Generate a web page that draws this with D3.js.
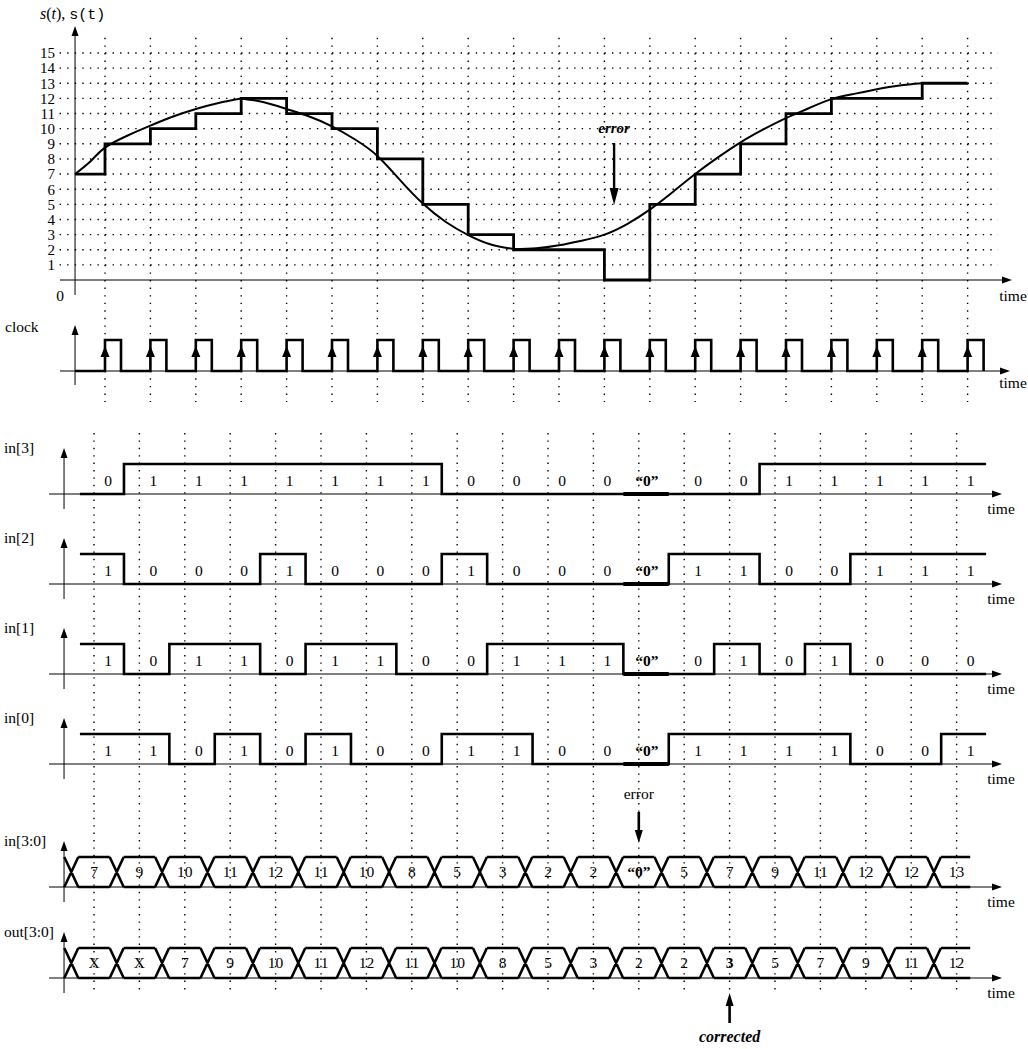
<!DOCTYPE html>
<html>
<head>
<meta charset="utf-8">
<script src="https://cdn.jsdelivr.net/npm/d3@7"></script>
<style>
  body { margin: 0; background: #fff; }
  svg { display: block; }
</style>
</head>
<body>
<script>
// sampled values s(t) at every clock edge (index 12 is the corrupted sample)
const sampleValues = [7, 9, 10, 11, 12, 11, 10, 8, 5, 3, 2, 2, 0, 5, 7, 9, 11, 12, 12, 13];
const errorIndex = 12;

// decoder output, two cycles late, with the corrected sample
const outLabels = ['X', 'X', '7', '9', '10', '11', '12', '11', '10', '8', '5', '3', '2', '2', '3', '5', '7', '9', '11', '12'];
const correctedIndex = 14;

// analog curve, [t, value], t in clock periods
const curveRise = [[-0.66, 7], [-0.3, 7.9], [0, 8.75], [0.5, 9.55], [1, 10.2], [1.5, 10.8], [2, 11.3], [2.5, 11.7], [3, 12]];
const curveFall = [[3, 12], [3.5, 11.75], [4, 11.3], [4.5, 10.8], [5, 10.15], [5.5, 9.3], [6, 8.2], [6.5, 6.6],
  [7, 5.05], [7.5, 3.85], [8, 2.97], [8.5, 2.35], [9, 2.05]];
const curveRise2 = [[9, 2.05], [9.5, 2.1], [10, 2.3], [10.5, 2.6], [11, 3.0], [11.5, 3.7], [12, 4.65], [12.5, 5.8],
  [13, 7.0], [13.5, 8.1], [14, 9.1], [14.5, 9.95], [15, 10.7], [15.5, 11.35], [16, 11.95], [16.5, 12.3],
  [17, 12.6], [17.5, 12.85], [18, 13.0]];

const levelTicks = [1, 2, 3, 4, 5, 6, 7, 8, 9, 10, 11, 12, 13, 14, 15];
const bitRows = [
  { label: 'in[3]', bit: 3 },
  { label: 'in[2]', bit: 2 },
  { label: 'in[1]', bit: 1 },
  { label: 'in[0]', bit: 0 },
];

const W = 1028, H = 1049;
const serif = "'Liberation Serif', 'Times New Roman', serif";
const mono = "'Liberation Mono', 'DejaVu Sans Mono', monospace";
const lineW = 2.6;

const svg = d3.select('body').append('svg')
  .attr('width', W)
  .attr('height', H)
  .attr('font-family', serif)
  .attr('font-size', 15.5);

const n = sampleValues.length;
const tOrigin = -0.66;

// top picture scales
const xTop = d3.scaleLinear().domain([0, n - 1]).range([105, 967.6]);
const yTop = d3.scaleLinear().domain([0, 15]).range([280, 53]);
// lower picture (bit rows and buses) is shifted a bit to the left
const xLow = d3.scaleLinear().domain([0, n - 1]).range([94, 956.6]);

const dotStyle = (sel, period) => sel
  .attr('stroke', '#000')
  .attr('stroke-width', 1.4)
  .attr('stroke-dasharray', `1.4,${period - 1.4}`)
  .attr('fill', 'none');

function arrow(g, x1, y1, x2, y2, opt) {
  const o = Object.assign({ head: 10, width: 7, stroke: 1 }, opt || {});
  const a = Math.atan2(y2 - y1, x2 - x1);
  const bx = x2 - o.head * Math.cos(a), by = y2 - o.head * Math.sin(a);
  const px = Math.sin(a) * o.width / 2, py = -Math.cos(a) * o.width / 2;
  g.append('line')
    .attr('x1', x1).attr('y1', y1).attr('x2', bx).attr('y2', by)
    .attr('stroke', '#000').attr('stroke-width', o.stroke);
  g.append('path')
    .attr('d', `M${x2},${y2}L${bx + px},${by + py}L${bx - px},${by - py}Z`)
    .attr('fill', '#000');
}

// ---------------- top: s(t) and its samples ----------------
const topG = svg.append('g').attr('class', 'top');
const gridPeriod = (xTop(1) - xTop(0)) / 6;

topG.append('g').selectAll('line')
  .data(levelTicks)
  .join('line')
  .attr('x1', xTop(-1)).attr('x2', 998)
  .attr('y1', d => yTop(d)).attr('y2', d => yTop(d))
  .call(dotStyle, gridPeriod);

topG.append('g').selectAll('line')
  .data(d3.range(n))
  .join('line')
  .attr('x1', d => xTop(d)).attr('x2', d => xTop(d))
  .attr('y1', yTop(16)).attr('y2', 402)
  .call(dotStyle, (yTop(0) - yTop(1)) / 2);

const yAxis = d3.axisLeft(yTop).tickValues(levelTicks).tickSize(0).tickPadding(3);
topG.append('g')
  .attr('transform', 'translate(58,0)')
  .call(yAxis)
  .call(g => g.select('.domain').remove())
  .call(g => g.selectAll('text').attr('font-family', serif).attr('font-size', 15).attr('fill', '#000'));

arrow(topG, 60, yTop(0), 1012, yTop(0), { stroke: 1 });
arrow(topG, xTop(tOrigin), 295, xTop(tOrigin), 26, { stroke: 1 });

topG.append('text').attr('x', 60).attr('y', 301).attr('text-anchor', 'middle').text('0');
topG.append('text').attr('x', 1013).attr('y', 301).attr('text-anchor', 'middle').text('time');

const yLabel = topG.append('text').attr('x', 40).attr('y', 19).attr('font-size', 16);
yLabel.append('tspan').attr('font-style', 'italic').text('s');
yLabel.append('tspan').text('(');
yLabel.append('tspan').attr('font-style', 'italic').text('t');
yLabel.append('tspan').text('), ');
yLabel.append('tspan').attr('font-family', mono).attr('font-size', 15).text('s(t)');

const stepPoints = [[tOrigin, sampleValues[0]]]
  .concat(sampleValues.slice(1).map((v, i) => [i, v]))
  .concat([[n - 1, sampleValues[n - 1]]]);

const stepLine = d3.line()
  .x(d => xTop(d[0])).y(d => yTop(d[1]))
  .curve(d3.curveStepAfter);

topG.append('path')
  .attr('d', stepLine(stepPoints))
  .attr('fill', 'none').attr('stroke', '#000').attr('stroke-width', 2.8);

const smooth = d3.line()
  .x(d => xTop(d[0])).y(d => yTop(d[1]))
  .curve(d3.curveNatural);

topG.append('g').selectAll('path')
  .data([curveRise, curveFall, curveRise2])
  .join('path')
  .attr('d', d => smooth(d))
  .attr('fill', 'none').attr('stroke', '#000').attr('stroke-width', 2);

// error marker
const errX = (xTop(errorIndex - 1) + xTop(errorIndex)) / 2 - 13;
topG.append('text')
  .attr('x', errX).attr('y', 133)
  .attr('text-anchor', 'middle')
  .attr('font-style', 'italic').attr('font-weight', 'bold').attr('font-size', 15)
  .text('error');
arrow(topG, errX, 143, errX, 205, { head: 17, width: 9, stroke: 2.4 });

// ---------------- clock ----------------
const clk = svg.append('g').attr('class', 'clock');
const clkLow = 371, clkHigh = 340;
const pulseW = 16 / (xTop(1) - xTop(0));

arrow(clk, 60, clkLow, 1010, clkLow, { stroke: 1 });
arrow(clk, xTop(tOrigin), 385, xTop(tOrigin), 325, { stroke: 1 });
clk.append('text').attr('x', 5).attr('y', 332).text('clock');
clk.append('text').attr('x', 1013).attr('y', 388).attr('text-anchor', 'middle').text('time');

let clkPath = `M${xTop(tOrigin)},${clkLow}`;
d3.range(n).forEach(k => {
  clkPath += `L${xTop(k)},${clkLow}L${xTop(k)},${clkHigh}L${xTop(k + pulseW)},${clkHigh}L${xTop(k + pulseW)},${clkLow}`;
});
clk.append('path')
  .attr('d', clkPath)
  .attr('fill', 'none').attr('stroke', '#000').attr('stroke-width', lineW);

clk.append('g').selectAll('path')
  .data(d3.range(n))
  .join('path')
  .attr('d', k => `M${xTop(k)},${clkHigh + 6}L${xTop(k) + 4.5},${clkHigh + 17}L${xTop(k) - 4.5},${clkHigh + 17}Z`)
  .attr('fill', '#000');

// ---------------- lower picture ----------------
const low = svg.append('g').attr('class', 'lower');

low.append('g').selectAll('line')
  .data(d3.range(n))
  .join('line')
  .attr('x1', d => xLow(d)).attr('x2', d => xLow(d))
  .attr('y1', 433).attr('y2', 994)
  .call(dotStyle, 7.4);

const rowAxis = (base, label) => {
  arrow(low, 49, base, 1002, base, { stroke: 1 });
  arrow(low, xLow(tOrigin), base + 15, xLow(tOrigin), base - 46, { stroke: 1 });
  low.append('text').attr('x', 4).attr('y', base - 41).text(label);
  low.append('text').attr('x', 1001).attr('y', base + 20).attr('text-anchor', 'middle').text('time');
};

const bitBase = [494, 584, 674, 764];
const rowH = 30;
const bitShift = 0.66;
const quoted = '\u201C0\u201D';

bitRows.forEach((row, r) => {
  const base = bitBase[r];
  rowAxis(base, row.label);
  const bits = sampleValues.map(v => (v >> row.bit) & 1);
  const pts = [[-0.31, bits[0]]]
    .concat(bits.slice(1).map((b, i) => [i + bitShift, b]))
    .concat([[n - 1 + 0.65, bits[n - 1]]]);
  const y = b => base - b * rowH;
  low.append('path')
    .attr('d', d3.line().x(d => xLow(d[0])).y(d => y(d[1])).curve(d3.curveStepAfter)(pts))
    .attr('fill', 'none').attr('stroke', '#000').attr('stroke-width', lineW);

  // bold low level during the corrupted sample
  low.append('line')
    .attr('x1', xLow(errorIndex - 1 + bitShift)).attr('x2', xLow(errorIndex + bitShift))
    .attr('y1', base).attr('y2', base)
    .attr('stroke', '#000').attr('stroke-width', 4);

  low.append('g').selectAll('text')
    .data(bits)
    .join('text')
    .attr('x', (d, i) => i === errorIndex ? xLow(i) + 8 : xLow(i) + 14)
    .attr('y', base - 8)
    .attr('text-anchor', 'middle')
    .attr('font-weight', (d, i) => i === errorIndex ? 'bold' : null)
    .text((d, i) => i === errorIndex ? quoted : d);
});

// buses
const busHalf = 7;
function drawBus(base, label, texts, boldIndex) {
  rowAxis(base, label);
  const topY = base - rowH;
  let p = '';
  for (let k = 0; k < n; k++) {
    const a = xLow(k - 0.5);
    const end = k < n - 1 ? xLow(k + 0.5) - busHalf : xLow(n - 1 + 0.3);
    p += `M${a - busHalf},${topY}L${a + busHalf},${base}M${a - busHalf},${base}L${a + busHalf},${topY}`;
    p += `M${a + busHalf},${topY}L${end},${topY}M${a + busHalf},${base}L${end},${base}`;
  }
  low.append('path')
    .attr('d', p)
    .attr('fill', 'none').attr('stroke', '#000').attr('stroke-width', lineW)
    .attr('stroke-linejoin', 'round');
  low.append('g').selectAll('text')
    .data(texts)
    .join('text')
    .attr('x', (d, i) => xLow(i))
    .attr('y', base - 10)
    .attr('text-anchor', 'middle')
    .attr('font-weight', (d, i) => i === boldIndex ? 'bold' : null)
    .text(d => d);
}

const inLabels = sampleValues.map((v, i) => i === errorIndex ? quoted : String(v));
drawBus(887, 'in[3:0]', inLabels, errorIndex);
drawBus(978, 'out[3:0]', outLabels, correctedIndex);

low.append('text')
  .attr('x', xLow(errorIndex)).attr('y', 799)
  .attr('text-anchor', 'middle')
  .text('error');
arrow(low, xLow(errorIndex), 812, xLow(errorIndex), 843, { head: 13, width: 8, stroke: 2.6 });

arrow(low, xLow(correctedIndex), 1023, xLow(correctedIndex), 993, { head: 13, width: 8, stroke: 2.6 });
low.append('text')
  .attr('x', xLow(correctedIndex)).attr('y', 1042)
  .attr('text-anchor', 'middle')
  .attr('font-style', 'italic').attr('font-weight', 'bold').attr('font-size', 16)
  .text('corrected');
</script>
</body>
</html>
